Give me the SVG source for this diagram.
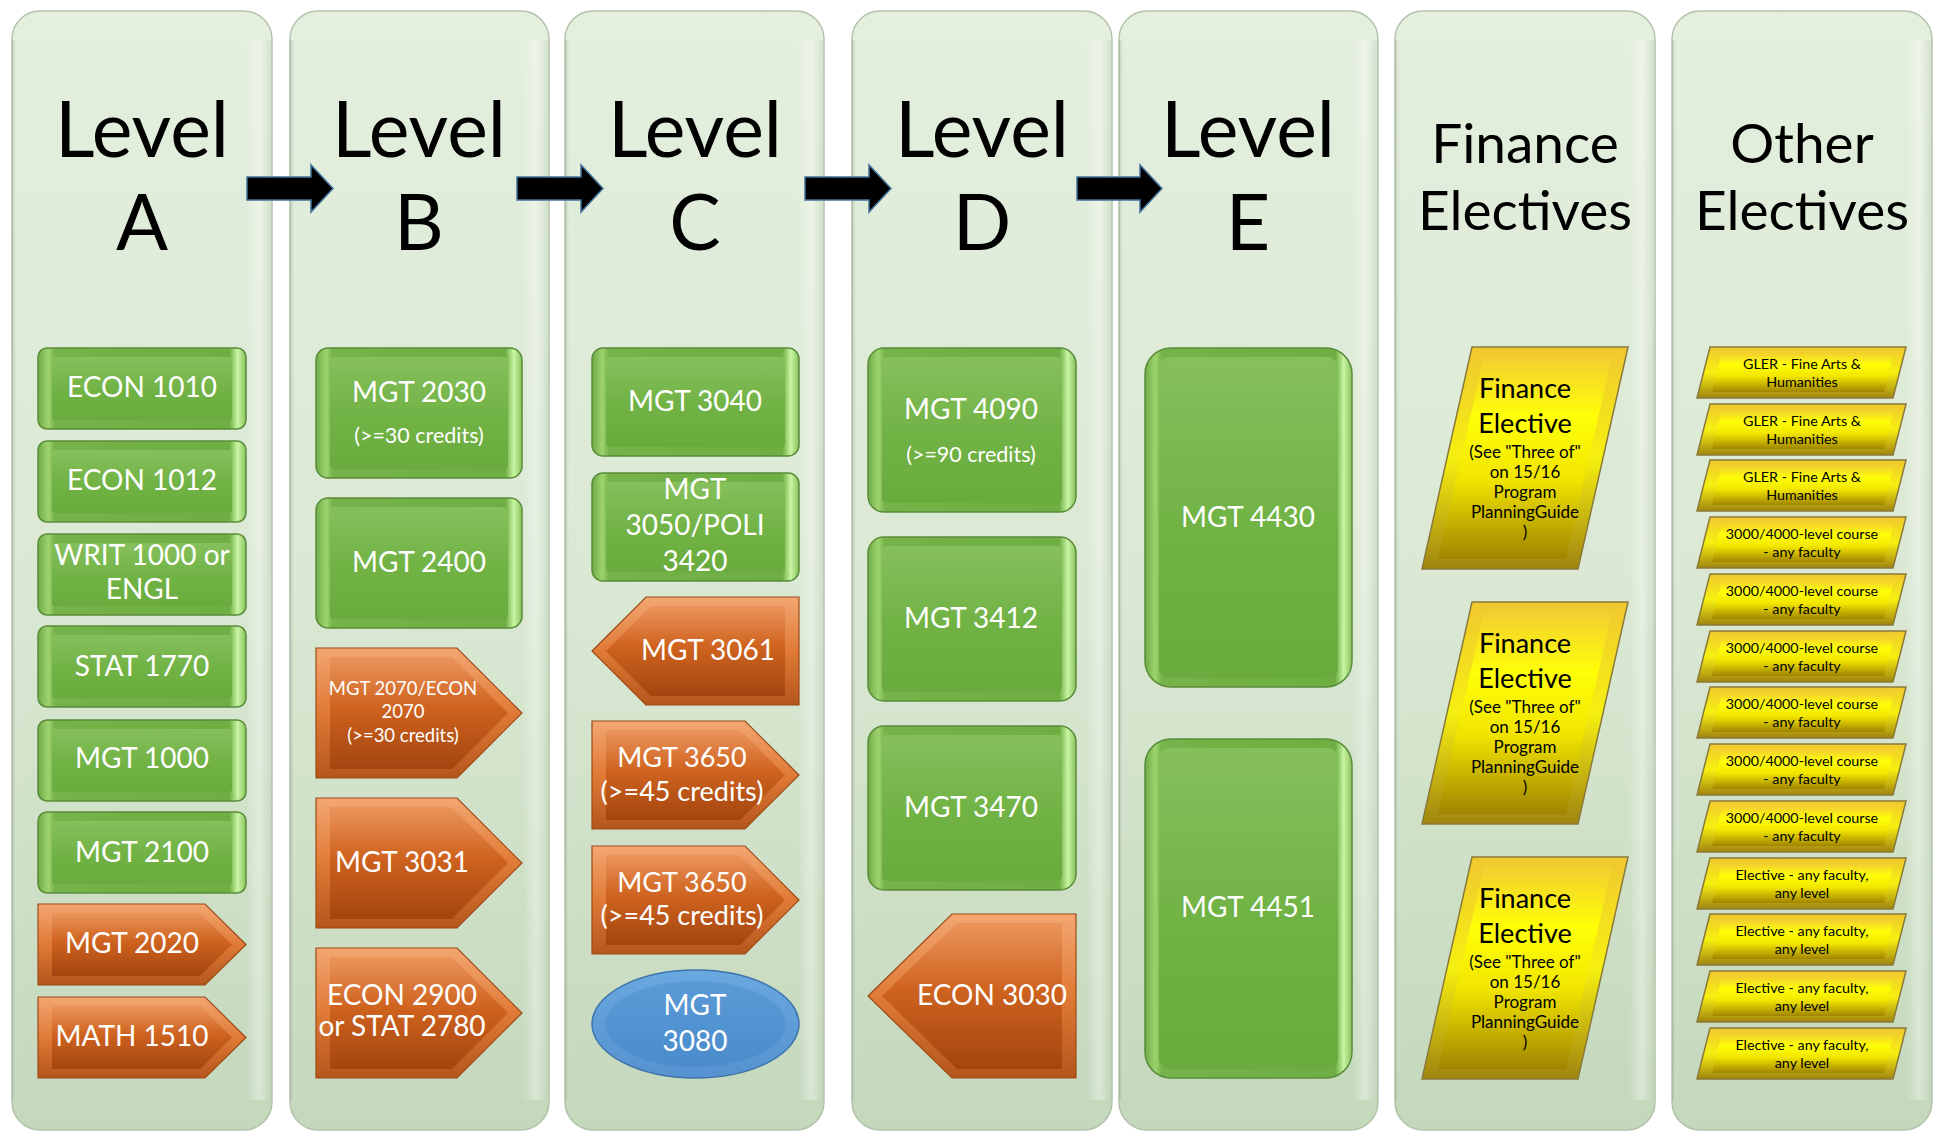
<svg xmlns="http://www.w3.org/2000/svg" width="1936" height="1131" viewBox="0 0 1936 1131">
<defs>
<linearGradient id="panelV" x1="0" y1="0" x2="0" y2="1">
<stop offset="0" stop-color="#e4efde"/><stop offset="0.5" stop-color="#dbe9d4"/><stop offset="1" stop-color="#c4d8bc"/>
</linearGradient>
<linearGradient id="panelH" x1="0" y1="0" x2="1" y2="0">
<stop offset="0" stop-color="#8fa388" stop-opacity="0.45"/><stop offset="0.025" stop-color="#ffffff" stop-opacity="0"/>
<stop offset="0.9" stop-color="#ffffff" stop-opacity="0"/><stop offset="0.95" stop-color="#ffffff" stop-opacity="0.35"/><stop offset="1" stop-color="#b7c9ae" stop-opacity="0.4"/>
</linearGradient>
<linearGradient id="gO" x1="0" y1="0" x2="1" y2="0">
<stop offset="0" stop-color="#6fab46"/><stop offset="0.05" stop-color="#9ed36e"/><stop offset="0.08" stop-color="#76b34a"/>
<stop offset="0.92" stop-color="#6eae42"/><stop offset="0.96" stop-color="#c9f5a3"/><stop offset="1" stop-color="#88c25c"/>
</linearGradient>
<linearGradient id="gI" x1="0" y1="0" x2="0" y2="1">
<stop offset="0" stop-color="#86c05d"/><stop offset="0.5" stop-color="#72b346"/><stop offset="1" stop-color="#6aab3e"/>
</linearGradient>
<linearGradient id="oO" x1="0" y1="0" x2="0" y2="1">
<stop offset="0" stop-color="#f3a772"/><stop offset="0.5" stop-color="#e07a36"/><stop offset="1" stop-color="#b4561c"/>
</linearGradient>
<linearGradient id="oI" x1="0" y1="0" x2="0" y2="1">
<stop offset="0" stop-color="#eb955c"/><stop offset="0.45" stop-color="#cf631f"/><stop offset="1" stop-color="#a3450f"/>
</linearGradient>
<linearGradient id="bO" x1="0" y1="0" x2="0" y2="1">
<stop offset="0" stop-color="#6aa8e0"/><stop offset="1" stop-color="#5592cf"/>
</linearGradient>
<linearGradient id="bI" x1="0" y1="0" x2="0" y2="1">
<stop offset="0" stop-color="#5a9ad6"/><stop offset="1" stop-color="#4a8ccc"/>
</linearGradient>
<linearGradient id="yO" x1="0" y1="0" x2="0" y2="1">
<stop offset="0" stop-color="#f0c830"/><stop offset="0.5" stop-color="#f6f010"/><stop offset="1" stop-color="#a08410"/>
</linearGradient>
<linearGradient id="yI" x1="0" y1="0" x2="0" y2="1">
<stop offset="0" stop-color="#f3cf30"/><stop offset="0.3" stop-color="#ffff08"/><stop offset="0.6" stop-color="#f2e600"/><stop offset="1" stop-color="#a08400"/>
</linearGradient>
<style>
.panel{fill:url(#panelV);stroke:#b3c3ab;stroke-width:1.5}
.panelH{fill:url(#panelH)}
.gO{fill:url(#gO);stroke:#5a8c3a;stroke-width:1.5}
.gI{fill:url(#gI)}
.oO{fill:url(#oO);stroke:#9c4a18;stroke-width:1.2}
.oI{fill:url(#oI)}
.bO{fill:url(#bO);stroke:#3e73aa;stroke-width:1.5}
.bI{fill:url(#bI)}
.yO{fill:url(#yO);stroke:#8a7a3a;stroke-width:1.5}
.yI{fill:url(#yI)}
.arrow{fill:#000;stroke:#41719c;stroke-width:1.5}
text{font-family:Lato,"Liberation Sans",sans-serif;text-anchor:middle}
.w{fill:#ffffff}
.k{fill:#000000}
.lg{font-size:28px}
.md{font-size:27px}
.sm{font-size:21.5px}
.xs{font-size:18.5px}
.hd{font-size:77px}
.hd2{font-size:55px}
.fe1{font-size:27px}
.fe2{font-size:17px}
.oe{font-size:14.3px}
</style>
</defs>

<g id="panels">
<g id="panel-a"><rect class="panel" x="12" y="11" width="260" height="1119" rx="28"/><rect class="panelH" x="12" y="40" width="260" height="1060"/></g>
<g id="panel-b"><rect class="panel" x="290" y="11" width="259" height="1119" rx="28"/><rect class="panelH" x="290" y="40" width="259" height="1060"/></g>
<g id="panel-c"><rect class="panel" x="565" y="11" width="259" height="1119" rx="28"/><rect class="panelH" x="565" y="40" width="259" height="1060"/></g>
<g id="panel-d"><rect class="panel" x="852" y="11" width="260" height="1119" rx="28"/><rect class="panelH" x="852" y="40" width="260" height="1060"/></g>
<g id="panel-e"><rect class="panel" x="1119" y="11" width="259" height="1119" rx="28"/><rect class="panelH" x="1119" y="40" width="259" height="1060"/></g>
<g id="panel-f"><rect class="panel" x="1395" y="11" width="260" height="1119" rx="28"/><rect class="panelH" x="1395" y="40" width="260" height="1060"/></g>
<g id="panel-o"><rect class="panel" x="1672" y="11" width="260" height="1119" rx="28"/><rect class="panelH" x="1672" y="40" width="260" height="1060"/></g>
</g>

<g id="headers">
<g id="hdr-a"><text class="k hd" x="142" y="157">Level</text><text class="k hd" x="142" y="250">A</text></g>
<g id="hdr-b"><text class="k hd" x="419" y="157">Level</text><text class="k hd" x="419" y="250">B</text></g>
<g id="hdr-c"><text class="k hd" x="695" y="157">Level</text><text class="k hd" x="695" y="250">C</text></g>
<g id="hdr-d"><text class="k hd" x="982" y="157">Level</text><text class="k hd" x="982" y="250">D</text></g>
<g id="hdr-e"><text class="k hd" x="1248" y="157">Level</text><text class="k hd" x="1248" y="250">E</text></g>
<g id="hdr-f"><text class="k hd2" x="1525" y="163">Finance</text><text class="k hd2" x="1525" y="230">Electives</text></g>
<g id="hdr-o"><text class="k hd2" x="1802" y="163">Other</text><text class="k hd2" x="1802" y="230">Electives</text></g>
</g>

<g id="connectors">
<polygon class="arrow" points="247,177 311,177 311,165 333,188.5 311,212 311,200 247,200"/>
<polygon class="arrow" points="517,177 581,177 581,165 603,188.5 581,212 581,200 517,200"/>
<polygon class="arrow" points="805,177 869,177 869,165 891,188.5 869,212 869,200 805,200"/>
<polygon class="arrow" points="1077,177 1140,177 1140,165 1162,188.5 1140,212 1140,200 1077,200"/>
</g>

<!-- Level A -->
<g id="econ1010"><rect class="gO" x="38" y="348" width="208" height="81" rx="9"/><rect class="gI" x="52" y="357" width="180" height="63" rx="3"/><text class="w lg" x="142" y="397">ECON 1010</text></g>
<g id="econ1012"><rect class="gO" x="38" y="441" width="208" height="81" rx="9"/><rect class="gI" x="52" y="450" width="180" height="63" rx="3"/><text class="w lg" x="142" y="490">ECON 1012</text></g>
<g id="writ1000"><rect class="gO" x="38" y="534" width="208" height="81" rx="9"/><rect class="gI" x="52" y="543" width="180" height="63" rx="3"/><text class="w lg" x="142" y="565">WRIT 1000 or</text><text class="w lg" x="142" y="599">ENGL</text></g>
<g id="stat1770"><rect class="gO" x="38" y="626" width="208" height="81" rx="9"/><rect class="gI" x="52" y="635" width="180" height="63" rx="3"/><text class="w lg" x="142" y="676">STAT 1770</text></g>
<g id="mgt1000"><rect class="gO" x="38" y="720" width="208" height="81" rx="9"/><rect class="gI" x="52" y="729" width="180" height="63" rx="3"/><text class="w lg" x="142" y="768">MGT 1000</text></g>
<g id="mgt2100"><rect class="gO" x="38" y="812" width="208" height="81" rx="9"/><rect class="gI" x="52" y="821" width="180" height="63" rx="3"/><text class="w lg" x="142" y="862">MGT 2100</text></g>
<g id="mgt2020"><polygon class="oO" points="38,904 205,904 246,944.5 205,985 38,985"/><polygon class="oI" points="52,913 200,913 232,944.5 200,976 52,976"/><text class="w lg" x="132" y="953">MGT 2020</text></g>
<g id="math1510"><polygon class="oO" points="38,997 205,997 246,1037.5 205,1078 38,1078"/><polygon class="oI" points="52,1006 200,1006 232,1037.5 200,1069 52,1069"/><text class="w lg" x="132" y="1046">MATH 1510</text></g>

<!-- Level B -->
<g id="mgt2030"><rect class="gO" x="316" y="348" width="206" height="130" rx="12"/><rect class="gI" x="330" y="357" width="178" height="112" rx="4"/><text class="w lg" x="419" y="402">MGT 2030</text><text class="w sm" x="419" y="443">(&gt;=30 credits)</text></g>
<g id="mgt2400"><rect class="gO" x="316" y="498" width="206" height="130" rx="12"/><rect class="gI" x="330" y="507" width="178" height="112" rx="4"/><text class="w lg" x="419" y="572">MGT 2400</text></g>
<g id="mgt2070"><polygon class="oO" points="316,648 457,648 522,713 457,778 316,778"/><polygon class="oI" points="330,657 452,657 508,713 452,769 330,769"/><text class="w xs" x="403" y="695">MGT 2070/ECON</text><text class="w xs" x="403" y="718">2070</text><text class="w xs" x="403" y="742">(&gt;=30 credits)</text></g>
<g id="mgt3031"><polygon class="oO" points="316,798 457,798 522,863 457,928 316,928"/><polygon class="oI" points="330,807 452,807 508,863 452,919 330,919"/><text class="w lg" x="402" y="872">MGT 3031</text></g>
<g id="econ2900"><polygon class="oO" points="316,948 457,948 522,1013 457,1078 316,1078"/><polygon class="oI" points="330,957 452,957 508,1013 452,1069 330,1069"/><text class="w lg" x="402" y="1005">ECON 2900</text><text class="w lg" x="402" y="1036">or STAT 2780</text></g>

<!-- Level C -->
<g id="mgt3040"><rect class="gO" x="592" y="348" width="207" height="108" rx="11"/><rect class="gI" x="606" y="357" width="179" height="90" rx="4"/><text class="w lg" x="695" y="411">MGT 3040</text></g>
<g id="mgt3050"><rect class="gO" x="592" y="473" width="207" height="108" rx="11"/><rect class="gI" x="606" y="482" width="179" height="90" rx="4"/><text class="w lg" x="695" y="499">MGT</text><text class="w lg" x="695" y="535">3050/POLI</text><text class="w lg" x="695" y="571">3420</text></g>
<g id="mgt3061"><polygon class="oO" points="592,651 646,597 799,597 799,705 646,705"/><polygon class="oI" points="606,651 651,606 785,606 785,696 651,696"/><text class="w lg" x="708" y="660">MGT 3061</text></g>
<g id="mgt3650a"><polygon class="oO" points="592,721 745,721 799,775 745,829 592,829"/><polygon class="oI" points="606,730 740,730 785,775 740,820 606,820"/><text class="w md" x="682" y="767">MGT 3650</text><text class="w md" x="682" y="801">(&gt;=45 credits)</text></g>
<g id="mgt3650b"><polygon class="oO" points="592,846 745,846 799,900 745,954 592,954"/><polygon class="oI" points="606,855 740,855 785,900 740,945 606,945"/><text class="w md" x="682" y="892">MGT 3650</text><text class="w md" x="682" y="925">(&gt;=45 credits)</text></g>
<g id="mgt3080"><ellipse class="bO" cx="695.5" cy="1024" rx="103.5" ry="54"/><ellipse class="bI" cx="695.5" cy="1024" rx="90" ry="43"/><text class="w lg" x="695" y="1015">MGT</text><text class="w lg" x="695" y="1051">3080</text></g>

<!-- Level D -->
<g id="mgt4090"><rect class="gO" x="868" y="348" width="208" height="164" rx="16"/><rect class="gI" x="882" y="357" width="180" height="146" rx="5"/><text class="w lg" x="971" y="419">MGT 4090</text><text class="w sm" x="971" y="462">(&gt;=90 credits)</text></g>
<g id="mgt3412"><rect class="gO" x="868" y="537" width="208" height="164" rx="16"/><rect class="gI" x="882" y="546" width="180" height="146" rx="5"/><text class="w lg" x="971" y="628">MGT 3412</text></g>
<g id="mgt3470"><rect class="gO" x="868" y="726" width="208" height="164" rx="16"/><rect class="gI" x="882" y="735" width="180" height="146" rx="5"/><text class="w lg" x="971" y="817">MGT 3470</text></g>
<g id="econ3030"><polygon class="oO" points="868,996 952,914 1076,914 1076,1078 952,1078"/><polygon class="oI" points="882,996 957,923 1062,923 1062,1069 957,1069"/><text class="w lg" x="992" y="1005">ECON 3030</text></g>

<!-- Level E -->
<g id="mgt4430"><rect class="gO" x="1145" y="348" width="207" height="339" rx="26"/><rect class="gI" x="1159" y="357" width="179" height="321" rx="10"/><text class="w lg" x="1248" y="527">MGT 4430</text></g>
<g id="mgt4451"><rect class="gO" x="1145" y="739" width="207" height="339" rx="26"/><rect class="gI" x="1159" y="748" width="179" height="321" rx="10"/><text class="w lg" x="1248" y="917">MGT 4451</text></g>

<!-- Finance Electives -->
<g id="fin-elective-1" transform="translate(0,347)"><polygon class="yO" points="1472,0 1628,0 1578,222 1422,222"/><polygon class="yI" points="1484,10 1612,10 1566,212 1438,212"/>
<text class="k fe1" x="1525" y="51">Finance</text><text class="k fe1" x="1525" y="86">Elective</text>
<text class="k fe2" x="1525" y="111">(See "Three of"</text><text class="k fe2" x="1525" y="131">on 15/16</text><text class="k fe2" x="1525" y="151">Program</text><text class="k fe2" x="1525" y="171">PlanningGuide</text><text class="k fe2" x="1525" y="191">)</text></g>
<g id="fin-elective-2" transform="translate(0,602)"><polygon class="yO" points="1472,0 1628,0 1578,222 1422,222"/><polygon class="yI" points="1484,10 1612,10 1566,212 1438,212"/>
<text class="k fe1" x="1525" y="51">Finance</text><text class="k fe1" x="1525" y="86">Elective</text>
<text class="k fe2" x="1525" y="111">(See "Three of"</text><text class="k fe2" x="1525" y="131">on 15/16</text><text class="k fe2" x="1525" y="151">Program</text><text class="k fe2" x="1525" y="171">PlanningGuide</text><text class="k fe2" x="1525" y="191">)</text></g>
<g id="fin-elective-3" transform="translate(0,857)"><polygon class="yO" points="1472,0 1628,0 1578,222 1422,222"/><polygon class="yI" points="1484,10 1612,10 1566,212 1438,212"/>
<text class="k fe1" x="1525" y="51">Finance</text><text class="k fe1" x="1525" y="86">Elective</text>
<text class="k fe2" x="1525" y="111">(See "Three of"</text><text class="k fe2" x="1525" y="131">on 15/16</text><text class="k fe2" x="1525" y="151">Program</text><text class="k fe2" x="1525" y="171">PlanningGuide</text><text class="k fe2" x="1525" y="191">)</text></g>

<!-- Other Electives -->
<g id="other-1" transform="translate(0,347)"><polygon class="yO" points="1710,0 1906,0 1893,51 1697,51"/><polygon class="yI" points="1722,6 1894,6 1884,45 1712,45"/><text class="k oe" x="1802" y="22">GLER - Fine Arts &amp;</text><text class="k oe" x="1802" y="40">Humanities</text></g>
<g id="other-2" transform="translate(0,404)"><polygon class="yO" points="1710,0 1906,0 1893,51 1697,51"/><polygon class="yI" points="1722,6 1894,6 1884,45 1712,45"/><text class="k oe" x="1802" y="22">GLER - Fine Arts &amp;</text><text class="k oe" x="1802" y="40">Humanities</text></g>
<g id="other-3" transform="translate(0,460)"><polygon class="yO" points="1710,0 1906,0 1893,51 1697,51"/><polygon class="yI" points="1722,6 1894,6 1884,45 1712,45"/><text class="k oe" x="1802" y="22">GLER - Fine Arts &amp;</text><text class="k oe" x="1802" y="40">Humanities</text></g>
<g id="other-4" transform="translate(0,517)"><polygon class="yO" points="1710,0 1906,0 1893,51 1697,51"/><polygon class="yI" points="1722,6 1894,6 1884,45 1712,45"/><text class="k oe" x="1802" y="22">3000/4000-level course</text><text class="k oe" x="1802" y="40">- any faculty</text></g>
<g id="other-5" transform="translate(0,574)"><polygon class="yO" points="1710,0 1906,0 1893,51 1697,51"/><polygon class="yI" points="1722,6 1894,6 1884,45 1712,45"/><text class="k oe" x="1802" y="22">3000/4000-level course</text><text class="k oe" x="1802" y="40">- any faculty</text></g>
<g id="other-6" transform="translate(0,631)"><polygon class="yO" points="1710,0 1906,0 1893,51 1697,51"/><polygon class="yI" points="1722,6 1894,6 1884,45 1712,45"/><text class="k oe" x="1802" y="22">3000/4000-level course</text><text class="k oe" x="1802" y="40">- any faculty</text></g>
<g id="other-7" transform="translate(0,687)"><polygon class="yO" points="1710,0 1906,0 1893,51 1697,51"/><polygon class="yI" points="1722,6 1894,6 1884,45 1712,45"/><text class="k oe" x="1802" y="22">3000/4000-level course</text><text class="k oe" x="1802" y="40">- any faculty</text></g>
<g id="other-8" transform="translate(0,744)"><polygon class="yO" points="1710,0 1906,0 1893,51 1697,51"/><polygon class="yI" points="1722,6 1894,6 1884,45 1712,45"/><text class="k oe" x="1802" y="22">3000/4000-level course</text><text class="k oe" x="1802" y="40">- any faculty</text></g>
<g id="other-9" transform="translate(0,801)"><polygon class="yO" points="1710,0 1906,0 1893,51 1697,51"/><polygon class="yI" points="1722,6 1894,6 1884,45 1712,45"/><text class="k oe" x="1802" y="22">3000/4000-level course</text><text class="k oe" x="1802" y="40">- any faculty</text></g>
<g id="other-10" transform="translate(0,858)"><polygon class="yO" points="1710,0 1906,0 1893,51 1697,51"/><polygon class="yI" points="1722,6 1894,6 1884,45 1712,45"/><text class="k oe" x="1802" y="22">Elective - any faculty,</text><text class="k oe" x="1802" y="40">any level</text></g>
<g id="other-11" transform="translate(0,914)"><polygon class="yO" points="1710,0 1906,0 1893,51 1697,51"/><polygon class="yI" points="1722,6 1894,6 1884,45 1712,45"/><text class="k oe" x="1802" y="22">Elective - any faculty,</text><text class="k oe" x="1802" y="40">any level</text></g>
<g id="other-12" transform="translate(0,971)"><polygon class="yO" points="1710,0 1906,0 1893,51 1697,51"/><polygon class="yI" points="1722,6 1894,6 1884,45 1712,45"/><text class="k oe" x="1802" y="22">Elective - any faculty,</text><text class="k oe" x="1802" y="40">any level</text></g>
<g id="other-13" transform="translate(0,1028)"><polygon class="yO" points="1710,0 1906,0 1893,51 1697,51"/><polygon class="yI" points="1722,6 1894,6 1884,45 1712,45"/><text class="k oe" x="1802" y="22">Elective - any faculty,</text><text class="k oe" x="1802" y="40">any level</text></g>
</svg>
